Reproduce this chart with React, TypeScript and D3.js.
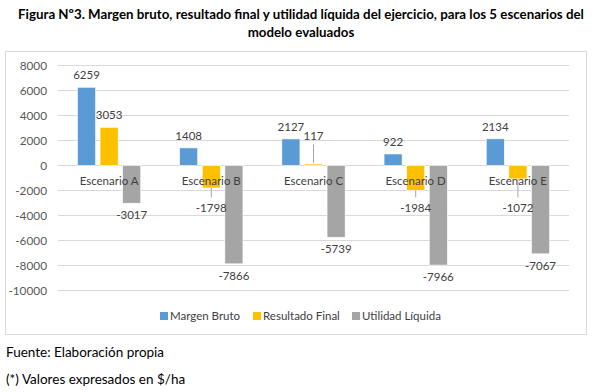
import React from "react";
import * as d3 from "d3";

const categories = ["Escenario A", "Escenario B", "Escenario C", "Escenario D", "Escenario E"];
const seriesNames = ["Margen Bruto", "Resultado Final", "Utilidad Líquida"];
const margenBruto = [6259, 1408, 2127, 922, 2134];
const resultadoFinal = [3053, -1798, 117, -1984, -1072];
const utilidadLiquida = [-3017, -7866, -5739, -7966, -7067];
const seriesValues = [margenBruto, resultadoFinal, utilidadLiquida];
const colors = ["#5B9BD5", "#FFC000", "#A5A5A5"];
const yTicks = [8000, 6000, 4000, 2000, 0, -2000, -4000, -6000, -8000, -10000];
const titleLines = [
  "Figura Nº3. Margen bruto, resultado final y utilidad líquida del ejercicio, para los 5 escenarios del",
  "modelo evaluados",
];
const footerLines = ["Fuente: Elaboración propia", "(*) Valores expresados en $/ha"];

const W = 600;
const H = 392;
const FONT = "Lato, 'Open Sans', sans-serif";

export default function App() {
  const x0 = d3.scaleBand<string>().domain(categories).range([58, 569]).padding(0);
  const bw = x0.bandwidth();
  const groupW = 63.3;
  const x1 = d3
    .scaleBand<string>()
    .domain(seriesNames)
    .range([(bw - groupW) / 2, (bw + groupW) / 2])
    .paddingInner(0.2)
    .paddingOuter(0);
  const y = d3.scaleLinear().domain([-10000, 8000]).range([290.5, 65.5]);
  const y0 = y(0);

  const labels: React.ReactNode[] = [];
  const bars: React.ReactNode[] = [];
  seriesNames.forEach((s, si) => {
    seriesValues[si].forEach((v, ci) => {
      const bx = (x0(categories[ci]) as number) + (x1(s) as number);
      const bwid = x1.bandwidth();
      const yv = y(v);
      const top = Math.min(yv, y0);
      const h = Math.abs(yv - y0);
      bars.push(
        <rect key={`b${si}-${ci}`} x={bx} y={top} width={bwid} height={h} fill={colors[si]} stroke="#fff" strokeWidth={0.6} />
      );
      const cx = bx + bwid / 2;
      let center: number;
      let leader: [number, number] | null = null;
      if (si === 1) {
        if (v >= 0) {
          center = Math.min(yv - 12, y0 - 30);
          if (center + 9 < yv - 3) leader = [center + 9, yv - 1];
        } else {
          center = Math.max(yv + 12, y0 + 42);
          if (center - 10 > yv + 3) leader = [yv, center - 10];
        }
      } else {
        center = v >= 0 ? yv - 12 : yv + 12;
      }
      if (leader) {
        labels.push(
          <line key={`l${si}-${ci}`} x1={cx} x2={cx} y1={leader[0]} y2={leader[1]} stroke="#A6A6A6" strokeWidth={1} />
        );
      }
      labels.push(
        <text key={`t${si}-${ci}`} x={cx} y={center + 4} textAnchor="middle" fontSize={11.5} fill="#404040" fontFamily={FONT}>
          {v}
        </text>
      );
    });
  });

  const legendX = [160, 253, 352];

  return (
    <svg width={W} height={H} style={{ position: "absolute", left: 0, top: 0, display: "block", background: "#fff" }}>
      <rect x={0} y={0} width={W} height={H} fill="#fff" />
      {titleLines.map((t, i) => (
        <text key={`title${i}`} x={301} y={19 + i * 17.5} textAnchor="middle" fontSize={13.3} fontWeight="bold" fill="#000" fontFamily={FONT}>
          {t}
        </text>
      ))}
      <rect x={5.5} y={51.5} width={581} height={283} fill="none" stroke="#D9D9D9" strokeWidth={1} />
      {yTicks.map((t) => (
        <g key={`g${t}`}>
          <line x1={58} x2={569} y1={y(t)} y2={y(t)} stroke="#D9D9D9" strokeWidth={1} />
          <text x={47} y={y(t) + 4} textAnchor="end" fontSize={11.8} fill="#595959" fontFamily={FONT}>
            {t}
          </text>
        </g>
      ))}
      {bars}
      {categories.map((c) => (
        <text key={c} x={(x0(c) as number) + bw / 2} y={y0 + 19.5} textAnchor="middle" fontSize={11.5} fill="#404040" fontFamily={FONT}>
          {c}
        </text>
      ))}
      {labels}
      {seriesNames.map((s, i) => (
        <g key={`leg${i}`}>
          <rect x={legendX[i]} y={312} width={8} height={8} fill={colors[i]} />
          <text x={legendX[i] + 10} y={320} fontSize={11.5} fill="#404040" fontFamily={FONT}>
            {s}
          </text>
        </g>
      ))}
      {footerLines.map((t, i) => (
        <text key={`f${i}`} x={6} y={357 + i * 27} fontSize={13.5} fill="#000" fontFamily={FONT}>
          {t}
        </text>
      ))}
    </svg>
  );
}
